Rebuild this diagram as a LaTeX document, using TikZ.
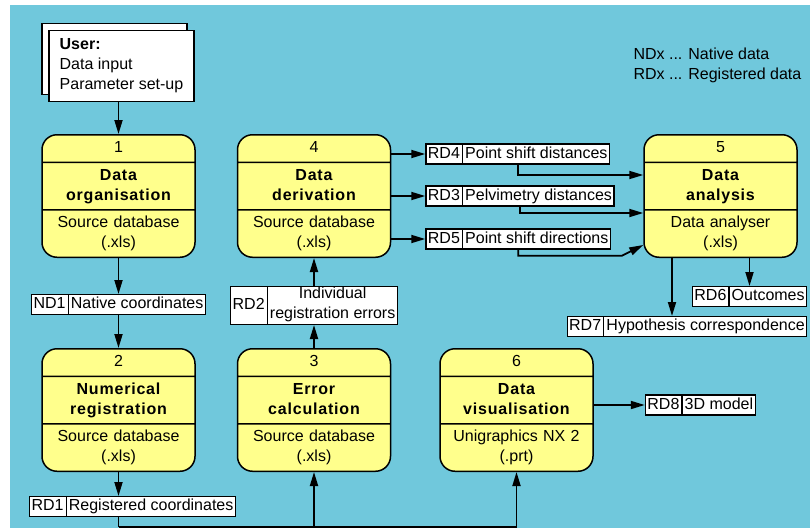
\documentclass[tikz,border=0pt]{standalone}
\usepackage{fontspec}
\setmainfont{Liberation Sans}
\newfontfamily\titlefont[LetterSpace=5]{Liberation Sans}
\usetikzlibrary{shapes.multipart, arrows.meta, positioning, shadows}
\definecolor{bgblue}{RGB}{112, 200, 220}
\definecolor{procyellow}{RGB}{255, 255, 140}
\tikzstyle{proc} = [rectangle split, rectangle split parts=3, rounded corners=15pt, draw=black, line width=1.5pt, fill=procyellow, text width=147pt, inner xsep=3pt, inner ysep=3pt, align=center, execute at begin node=\strut, execute at end node=\strut]
\tikzstyle{store} = [rectangle split, rectangle split horizontal, rectangle split parts=2, draw=black, line width=1.3pt, fill=white, inner xsep=2pt, inner ysep=0pt, execute at begin node=\strut, execute at end node=\strut]
\tikzstyle{userbox} = [rectangle, draw=black, line width=1.5pt, fill=white, minimum width=145pt, minimum height=71pt, align=left, copy shadow={shadow xshift=-7pt, shadow yshift=7pt}]
\tikzstyle{link} = [line width=1.8pt]
\tikzstyle{arrow} = [line width=1.8pt, ->, >={Triangle[length=14pt, width=8pt]}]

\begin{document}
\begin{tikzpicture}[x=1pt, y=-1pt, font=\fontsize{16}{20}\selectfont]
\useasboundingbox (0,0) rectangle (810,530);
\fill [bgblue] (10,5) rectangle (810,528);

% Processes
\node (p1) [proc] at (118.5,196) {1\nodepart{two}\titlefont\bfseries Data\\organisation\nodepart{three}Source database\\(.xls)};
\node (p4) [proc, right=41pt of p1] {4\nodepart{two}\titlefont\bfseries Data\\derivation\nodepart{three}Source database\\(.xls)};
\node (p5) [proc, right=252pt of p4] {5\nodepart{two}\titlefont\bfseries Data\\analysis\nodepart{three}Data analyser\\(.xls)};
\node (p2) [proc, below=90pt of p1] {2\nodepart{two}\titlefont\bfseries Numerical\\registration\nodepart{three}Source database\\(.xls)};
\node (p3) [proc, right=41pt of p2] {3\nodepart{two}\titlefont\bfseries Error\\calculation\nodepart{three}Source database\\(.xls)};
\node (p6) [proc, right=48pt of p3] {6\nodepart{two}\titlefont\bfseries Data\\visualisation\nodepart{three}Unigraphics NX 2\\(.prt)};

% User input
\node (user) [userbox, above=32pt of p1, xshift=3pt] {\textbf{User:}\\Data input\\Parameter set-up};

% Data stores
\node (nd1) [store, below=36pt of p1] {ND1\nodepart{two}Native coordinates};
\node (rd1) [store, below=24pt of p2, xshift=14pt] {RD1\nodepart{two}Registered coordinates};
\node (rd2) [store, align=center, above=23pt of p3] {RD2\nodepart{two}Individual\\registration errors};
\node (rd4) [store, right=34pt of p4.north east, yshift=-20pt] {RD4\nodepart{two}Point shift distances};
\node (rd3) [store, right=34pt of p4] {RD3\nodepart{two}Pelvimetry distances};
\node (rd5) [store, right=34pt of p4.south east, yshift=19pt] {RD5\nodepart{two}Point shift directions};
\node (rd6) [store, below=28pt of p5, xshift=29pt] {RD6\nodepart{two}Outcomes};
\node (rd7) [store, below=58pt of p5, xshift=-33.5pt] {RD7\nodepart{two}Hypothesis correspondence};
\node (rd8) [store, right=51pt of p6, yshift=5pt] {RD8\nodepart{two}3D model};

% Legend
\node (legend) [anchor=west, align=left] at (630,65) {NDx ... Native data\\RDx ... Registered data};

% Arrows
\draw [arrow] (user.south -| p1.north) -- (p1.north);
\draw [arrow] (p1.south) -- (p1.south |- nd1.north);
\draw [arrow] (p1.south |- nd1.south) -- (p2.north);
\draw [arrow] (p2.south) -- (p2.south |- rd1.north);
\draw [link] (p2.south |- rd1.south) -- ++(0,10) coordinate (bus);
\draw [arrow] (bus) -| (p6.south);
\draw [arrow] (bus -| p3.south) -- (p3.south);
\draw [arrow] (p3.north) -- (p3.north |- rd2.south);
\draw [arrow] (p4.south |- rd2.north) -- (p4.south);
\draw [arrow] (p4.east |- rd4.west) -- (rd4.west);
\draw [arrow] (p4.east |- rd3.west) -- (rd3.west);
\draw [arrow] (p4.east |- rd5.west) -- (rd5.west);
\draw [arrow] (rd4.south) |- ([yshift=21pt]p5.west);
\draw [arrow] (rd3.south) |- ([yshift=-17pt]p5.west);
\draw [arrow] (rd5.south) |- +(104,6) -- ([yshift=13pt]p5.south west);
\draw [arrow] (rd6.north |- p5.south) -- (rd6.north);
\draw [arrow] ([xshift=-48.5pt]p5.south) -- ([xshift=-48.5pt]p5.south |- rd7.north);
\draw [arrow] (p6.east |- rd8.west) -- (rd8.west);

\end{tikzpicture}
\end{document}
